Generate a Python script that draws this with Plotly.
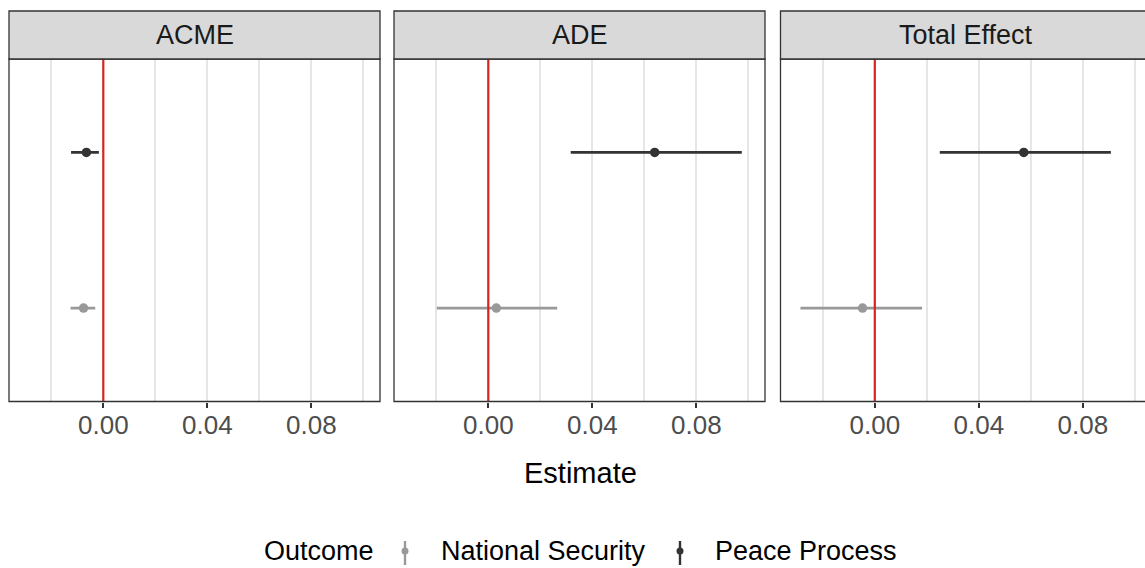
import plotly.graph_objects as go

W, H = 1145, 568

# ---- data ----
effects = ["ACME", "ADE", "Total Effect"]
outcomes = ["National Security", "Peace Process"]
outcome_colors = ["#999999", "#333333"]

est_ns = [-0.0076, 0.0031, -0.0047]
lo_ns = [-0.0126, -0.0198, -0.0286]
hi_ns = [-0.0031, 0.0265, 0.0182]

est_pp = [-0.0065, 0.0640, 0.0573]
lo_pp = [-0.0124, 0.0317, 0.0250]
hi_pp = [-0.0017, 0.0975, 0.0908]

tick_vals = [0.0, 0.04, 0.08]
tick_text = ["0.00", "0.04", "0.08"]
minor_vals = [-0.02, 0.02, 0.06, 0.10]
ref_line = 0.0

series = {
    "National Security": (est_ns, lo_ns, hi_ns),
    "Peace Process": (est_pp, lo_pp, hi_pp),
}

# ---- layout geometry (pixels) ----
panel_left = [9.0, 394.0, 780.5]
panel_w = 371.0
panel_top, panel_bot = 59.0, 401.5
strip_top = 11.0
px_per_unit = 2600.0
zero_off = 94.3
FONT = "Liberation Sans, Arial, sans-serif"


def px(x):
    return x / W


def py(y):
    return 1 - y / H


fig = go.Figure()
shapes = []
annotations = []

for i, eff in enumerate(effects):
    ax = "" if i == 0 else str(i + 1)
    left = panel_left[i]
    right = min(left + panel_w, W)
    xr0 = -zero_off / px_per_unit
    xr1 = xr0 + (right - left) / px_per_unit
    for j, oc in enumerate(outcomes):
        est, lo, hi = series[oc]
        fig.add_trace(go.Scatter(
            x=[est[i]], y=[oc], mode="markers",
            marker=dict(size=9.5, color=outcome_colors[j]),
            error_x=dict(type="data", symmetric=False,
                         array=[hi[i] - est[i]], arrayminus=[est[i] - lo[i]],
                         color=outcome_colors[j], thickness=2.8, width=0),
            xaxis="x" + ax, yaxis="y" + ax, name=oc, showlegend=False,
            cliponaxis=False,
        ))
    fig.update_layout(**{
        "xaxis" + ax: dict(
            domain=[px(left), px(right)], range=[xr0, xr1], anchor="y" + ax,
            tickmode="array", tickvals=tick_vals, ticktext=tick_text,
            ticks="outside", ticklen=5, tickwidth=1.6, tickcolor="#333333",
            ticklabelstandoff=-5,
            tickfont=dict(family=FONT, size=26, color="#4d4d4d"),
            showgrid=True, gridcolor="#e6e6e6", gridwidth=1.6,
            minor=dict(tickmode="array", tickvals=minor_vals, showgrid=True,
                       gridcolor="#e6e6e6", gridwidth=1.6, ticks=""),
            zeroline=False, showline=False, fixedrange=True,
        ),
        "yaxis" + ax: dict(
            domain=[py(panel_bot), py(panel_top)], anchor="x" + ax,
            type="category", categoryorder="array", categoryarray=outcomes,
            range=[-0.6, 1.6], showticklabels=False, showgrid=False,
            zeroline=False, ticks="", showline=False, fixedrange=True,
        ),
    })
    # red reference line
    shapes.append(dict(type="line", xref="x" + ax, yref="y" + ax + " domain",
                       x0=ref_line, x1=ref_line, y0=0, y1=1,
                       line=dict(color="#d7261e", width=2.2), layer="above"))
    # panel border
    shapes.append(dict(type="rect", xref="paper", yref="paper",
                       x0=px(left), x1=px(left + panel_w),
                       y0=py(panel_bot), y1=py(panel_top),
                       line=dict(color="#333333", width=1.3), layer="above"))
    # strip
    shapes.append(dict(type="rect", xref="paper", yref="paper",
                       x0=px(left), x1=px(left + panel_w),
                       y0=py(panel_top), y1=py(strip_top),
                       fillcolor="#d9d9d9",
                       line=dict(color="#333333", width=1.3), layer="above"))
    annotations.append(dict(text=eff, xref="paper", yref="paper",
                            x=px(left + panel_w / 2), y=py((strip_top + panel_top) / 2),
                            xanchor="center", yanchor="middle", showarrow=False,
                            font=dict(family=FONT, size=27, color="#1a1a1a")))

# axis title
annotations.append(dict(text="Estimate", xref="paper", yref="paper",
                        x=px(580), y=py(473), xanchor="center", yanchor="middle",
                        showarrow=False, font=dict(family=FONT, size=29, color="#000000")))

# legend (drawn manually: pointrange glyphs)
leg_y = 551
annotations.append(dict(text="Outcome", xref="paper", yref="paper",
                        x=px(262), y=py(leg_y), xanchor="left", yanchor="middle",
                        showarrow=False, font=dict(family=FONT, size=27, color="#000000")))
glyph_x = [405, 680]
label_x = [439, 713]
for j, oc in enumerate(outcomes):
    gx = glyph_x[j]
    shapes.append(dict(type="line", xref="paper", yref="paper",
                       x0=px(gx), x1=px(gx), y0=py(541), y1=py(565),
                       line=dict(color=outcome_colors[j], width=2.4)))
    shapes.append(dict(type="circle", xref="paper", yref="paper",
                       x0=px(gx - 3.5), x1=px(gx + 3.5), y0=py(leg_y + 3.5), y1=py(leg_y - 3.5),
                       fillcolor=outcome_colors[j], line=dict(width=0)))
    annotations.append(dict(text=oc, xref="paper", yref="paper",
                            x=px(label_x[j]), y=py(leg_y), xanchor="left", yanchor="middle",
                            showarrow=False, font=dict(family=FONT, size=27, color="#000000")))

fig.update_layout(
    width=W, height=H, margin=dict(l=0, r=0, t=0, b=0),
    paper_bgcolor="white", plot_bgcolor="white",
    showlegend=False, shapes=shapes, annotations=annotations,
    font=dict(family=FONT),
)

fig.write_html(
    "out.html",
    config={"displayModeBar": False},
    post_script="document.body.style.margin='0';document.body.style.overflow='hidden';",
)
